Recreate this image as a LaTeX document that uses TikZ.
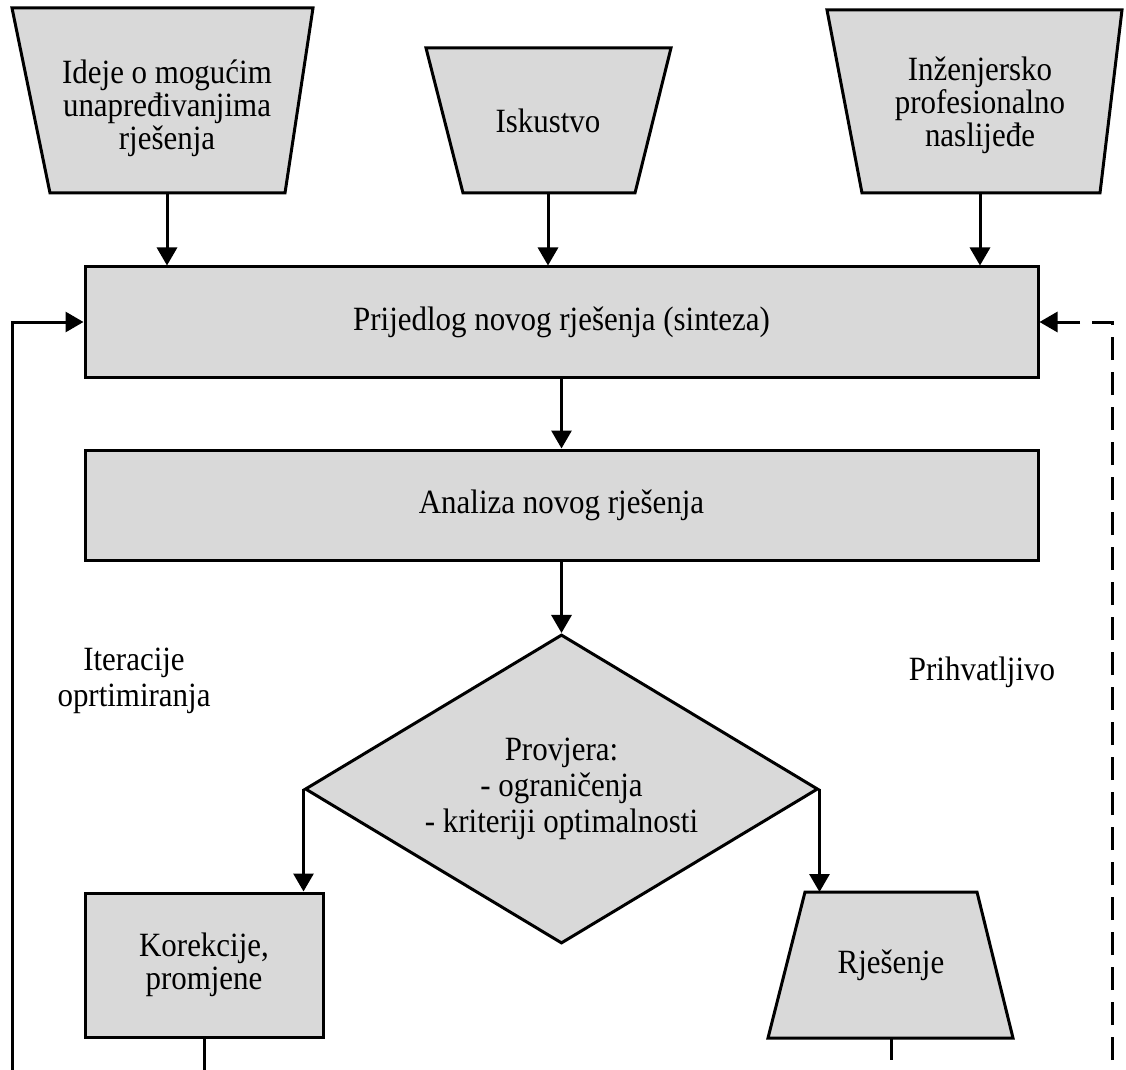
\documentclass[tikz,border=0pt]{standalone}
\usepackage{fontspec}
\setmainfont{Liberation Serif}[FakeStretch=0.91]
\usetikzlibrary{arrows.meta,shapes.geometric}
\definecolor{blokfill}{RGB}{217,217,217}
\tikzset{
  lik/.style={draw,fill=blokfill,line width=1.5pt},
  blok/.style={lik,align=center,font=\fontsize{17}{16.5}\selectfont},
  okvir/.style={blok,rectangle,minimum width=476.5pt,minimum height=55pt},
  tekst/.style={align=center,font=\fontsize{17}{16.5}\selectfont,inner sep=0pt,outer sep=0pt},
  veza/.style={line width=1.5pt,-{Triangle[length=9pt,width=10pt]}},
  isprekidano/.style={dash pattern=on 11.5pt off 6pt},
}
\begin{document}
\begin{tikzpicture}[x=0.5pt,y=-0.5pt]
  \useasboundingbox (0,0) rectangle (1126,1070);
  % ulazi
  \filldraw[lik] (12,8) -- (313,8) -- (285,193) -- (50,193) -- cycle;
  \filldraw[lik] (426,48) -- (671,48) -- (635,193) -- (463,193) -- cycle;
  \filldraw[lik] (827,10) -- (1122,10) -- (1100,193) -- (862,193) -- cycle;
  \node[tekst,minimum height=85pt] (ideje) at (167,108) {Ideje o mogućim\\unapređivanjima\\rješenja};
  \node[tekst,minimum height=72.5pt] (iskustvo) at (548,120.5) {Iskustvo};
  \node[tekst,minimum height=88pt] (nasljedje) at (980,105) {Inženjersko\\profesionalno\\naslijeđe};
  % glavni tok
  \node[okvir] (prijedlog) at (561.5,322) {Prijedlog novog rješenja (sinteza)};
  \node[okvir] (analiza) at (561.5,505) {Analiza novog rješenja};
  \node[blok,diamond,aspect=1.66,minimum width=256.5pt,minimum height=154.5pt,inner sep=0pt,
    font=\fontsize{17}{18}\selectfont] (provjera) at (561.5,789)
    {Provjera:\\- ograničenja\\- kriteriji optimalnosti};
  \node[blok,rectangle,minimum width=119pt,minimum height=72pt] (korekcije) at (204,965) {Korekcije,\\promjene};
  \filldraw[lik] (805,892) -- (977,892) -- (1013,1038) -- (768,1038) -- cycle;
  \node[tekst,minimum height=73pt] (rjesenje) at (891,965) {Rješenje};
  % oznake
  \node[tekst,font=\fontsize{17}{18}\selectfont] (iteracije) at (134,681) {Iteracije\\oprtimiranja};
  \node[tekst] (prihvatljivo) at (982,672) {Prihvatljivo};
  \coordinate (dnoL) at (12,1070);
  \coordinate (dnoK) at (204,1070);
  \coordinate (dnoD) at (1112,1060);
  \draw[veza] (ideje) -- (ideje |- prijedlog.north);
  \draw[veza] (iskustvo) -- (iskustvo |- prijedlog.north);
  \draw[veza] (nasljedje) -- (nasljedje |- prijedlog.north);
  \draw[veza] (prijedlog) -- (analiza);
  \draw[veza] (analiza) -- (provjera);
  \draw[veza] (provjera.west) -- (provjera.west |- korekcije.north);
  \draw[veza] (provjera.east) -- (provjera.east |- rjesenje.north);
  \draw[line width=1.5pt] (korekcije) -- (dnoK);
  \draw[line width=1.5pt] (rjesenje.south) -- ++(0,22);
  \draw[veza] (dnoL) |- (prijedlog.west);
  \draw[veza,isprekidano] (dnoD) |- (prijedlog.east);
\end{tikzpicture}
\end{document}
